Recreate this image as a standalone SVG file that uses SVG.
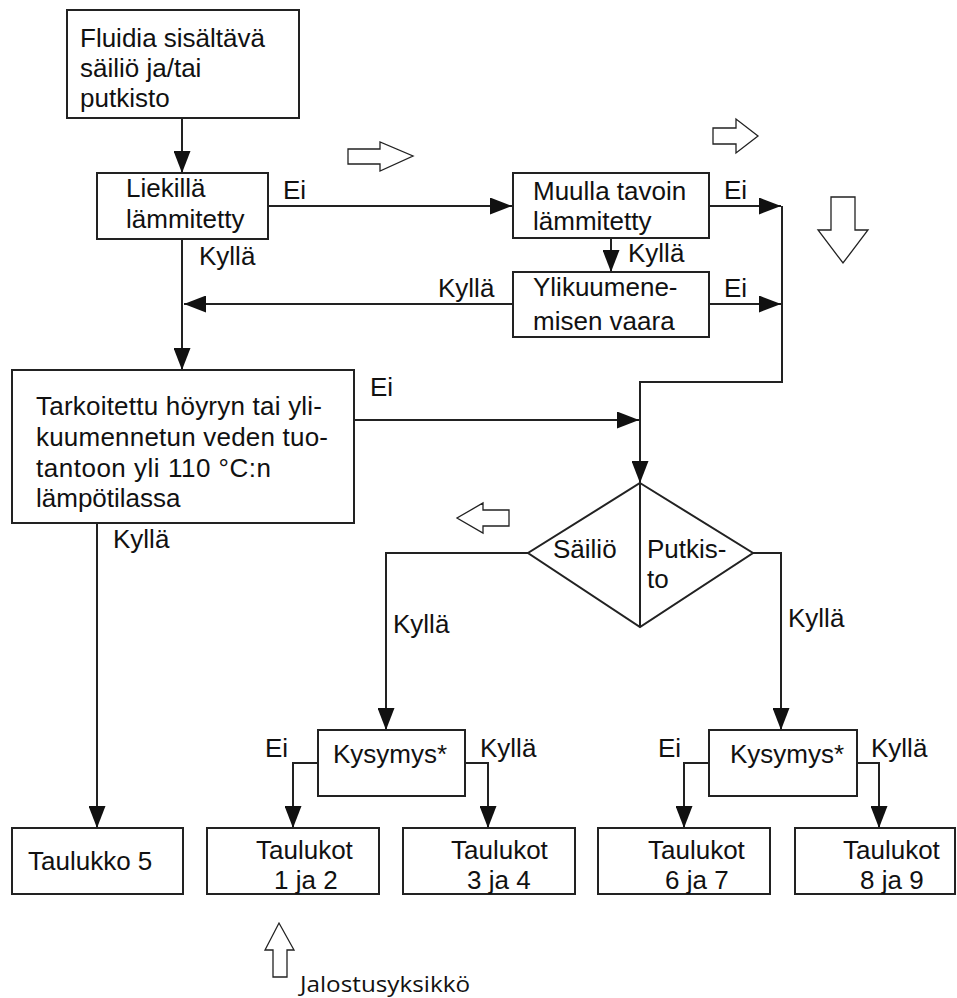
<svg xmlns="http://www.w3.org/2000/svg" width="957" height="998" viewBox="0 0 957 998">
<style>
.box{fill:#fff;stroke:#222;stroke-width:2}
.t{font-family:"Liberation Sans",Arial,sans-serif;font-size:26px;fill:#111}
.c{fill:none;stroke:#222;stroke-width:2;marker-end:url(#ah)}
.cn{fill:none;stroke:#222;stroke-width:2}
.ho{fill:#fff;stroke:#222;stroke-width:1.3}
</style>
<defs>
<marker id="ah" markerUnits="userSpaceOnUse" markerWidth="22" markerHeight="17" refX="22" refY="8.5" orient="auto">
<path d="M0,0 L22,8.5 L0,17 z" fill="#111"/>
</marker>
</defs>
<rect width="957" height="998" fill="#fff"/>
<g id="connectors">
<path class="c" d="M182,118 V173"/>
<path class="c" d="M268,206 H512"/>
<path class="c" d="M512,304 H184"/>
<path class="c" d="M182,239 V370"/>
<path class="c" d="M611,238 V272"/>
<path class="c" d="M709,206 H781"/>
<path class="c" d="M709,304 H781"/>
<path class="c" d="M782,206 V382 H640 V483"/>
<path class="c" d="M354,420 H639"/>
<path class="c" d="M528,553 H386 V730"/>
<path class="c" d="M753,553 H781 V730"/>
<path class="c" d="M318,763 H293 V828"/>
<path class="c" d="M465,763 H488 V828"/>
<path class="c" d="M709,763 H684 V828"/>
<path class="c" d="M857,763 H879 V828"/>
<path class="c" d="M97,523 V828"/>
<text class="t" x="283" y="199">Ei</text>
<text class="t" x="199" y="265">Kyllä</text>
<text class="t" x="438" y="297">Kyllä</text>
<text class="t" x="628" y="262">Kyllä</text>
<text class="t" x="724" y="199">Ei</text>
<text class="t" x="724" y="297">Ei</text>
<text class="t" x="370" y="396">Ei</text>
<text class="t" x="113" y="548">Kyllä</text>
<text class="t" x="393" y="633">Kyllä</text>
<text class="t" x="788" y="627">Kyllä</text>
<text class="t" x="265" y="757">Ei</text>
<text class="t" x="480" y="757">Kyllä</text>
<text class="t" x="658" y="757">Ei</text>
<text class="t" x="871" y="757">Kyllä</text>
</g>
<g id="n1"><rect class="box" x="67" y="10" width="232" height="108"/>
<text class="t" x="80" y="47">Fluidia sisältävä</text>
<text class="t" x="80" y="77">säiliö ja/tai</text>
<text class="t" x="80" y="107">putkisto</text></g>
<g id="n2"><rect class="box" x="97" y="173" width="171" height="66"/>
<text class="t" x="126" y="197">Liekillä</text>
<text class="t" x="126" y="228">lämmitetty</text></g>
<g id="n3"><rect class="box" x="513" y="173" width="196" height="65"/>
<text class="t" x="533" y="200">Muulla tavoin</text>
<text class="t" x="533" y="230">lämmitetty</text></g>
<g id="n4"><rect class="box" x="513" y="272" width="196" height="65"/>
<text class="t" x="533" y="296">Ylikuumene-</text>
<text class="t" x="533" y="330">misen vaara</text></g>
<g id="n5"><rect class="box" x="12" y="370" width="342" height="153"/>
<text class="t" x="36" y="415" textLength="286" lengthAdjust="spacing">Tarkoitettu höyryn tai yli-</text>
<text class="t" x="36" y="446" textLength="292" lengthAdjust="spacing">kuumennetun veden tuo-</text>
<text class="t" x="36" y="477" textLength="235" lengthAdjust="spacing">tantoon yli 110 °C:n</text>
<text class="t" x="36" y="507">lämpötilassa</text></g>
<g id="n6"><path class="box" d="M640,483 L753,553 L640,627 L528,553 Z"/>
<path class="cn" d="M640,483 V627"/>
<text class="t" x="553" y="558">Säiliö</text>
<text class="t" x="647" y="558">Putkis-</text>
<text class="t" x="647" y="588">to</text></g>
<g id="n7"><rect class="box" x="318" y="730" width="147" height="66"/>
<text class="t" x="333" y="763">Kysymys*</text></g>
<g id="n8"><rect class="box" x="709" y="730" width="148" height="66"/>
<text class="t" x="730" y="763">Kysymys*</text></g>
<g id="n9"><rect class="box" x="12" y="828" width="171" height="66"/>
<text class="t" x="28" y="870">Taulukko 5</text></g>
<g id="n10"><rect class="box" x="207" y="828" width="172" height="66"/>
<text class="t" x="256" y="859">Taulukot</text>
<text class="t" x="274" y="889">1 ja 2</text></g>
<g id="n11"><rect class="box" x="403" y="828" width="172" height="66"/>
<text class="t" x="451" y="859">Taulukot</text>
<text class="t" x="467" y="889">3 ja 4</text></g>
<g id="n12"><rect class="box" x="598" y="828" width="172" height="66"/>
<text class="t" x="648" y="859">Taulukot</text>
<text class="t" x="665" y="889">6 ja 7</text></g>
<g id="n13"><rect class="box" x="795" y="828" width="160" height="66"/>
<text class="t" x="843" y="859">Taulukot</text>
<text class="t" x="860" y="889">8 ja 9</text></g>
<g id="hollow-arrows">
<polygon class="ho" points="348,149 380,149 380,142 413,156 380,171 380,164 348,164"/>
<polygon class="ho" points="713,128 736,128 736,119 758,136 736,153 736,144 713,144"/>
<polygon class="ho" points="831,197 855,197 855,230 868,230 843,263 818,230 831,230"/>
<polygon class="ho" points="509,510 483,510 483,503 457,518 483,533 483,526 509,526"/>
<polygon class="ho" points="273,977 273,950 265,950 279,923 294,950 287,950 287,977"/>
<text x="300" y="992" font-family="'Open Sans','Liberation Sans',sans-serif" font-size="21" fill="#111" textLength="170" lengthAdjust="spacingAndGlyphs">Jalostusyksikkö</text>
</g>
</svg>
